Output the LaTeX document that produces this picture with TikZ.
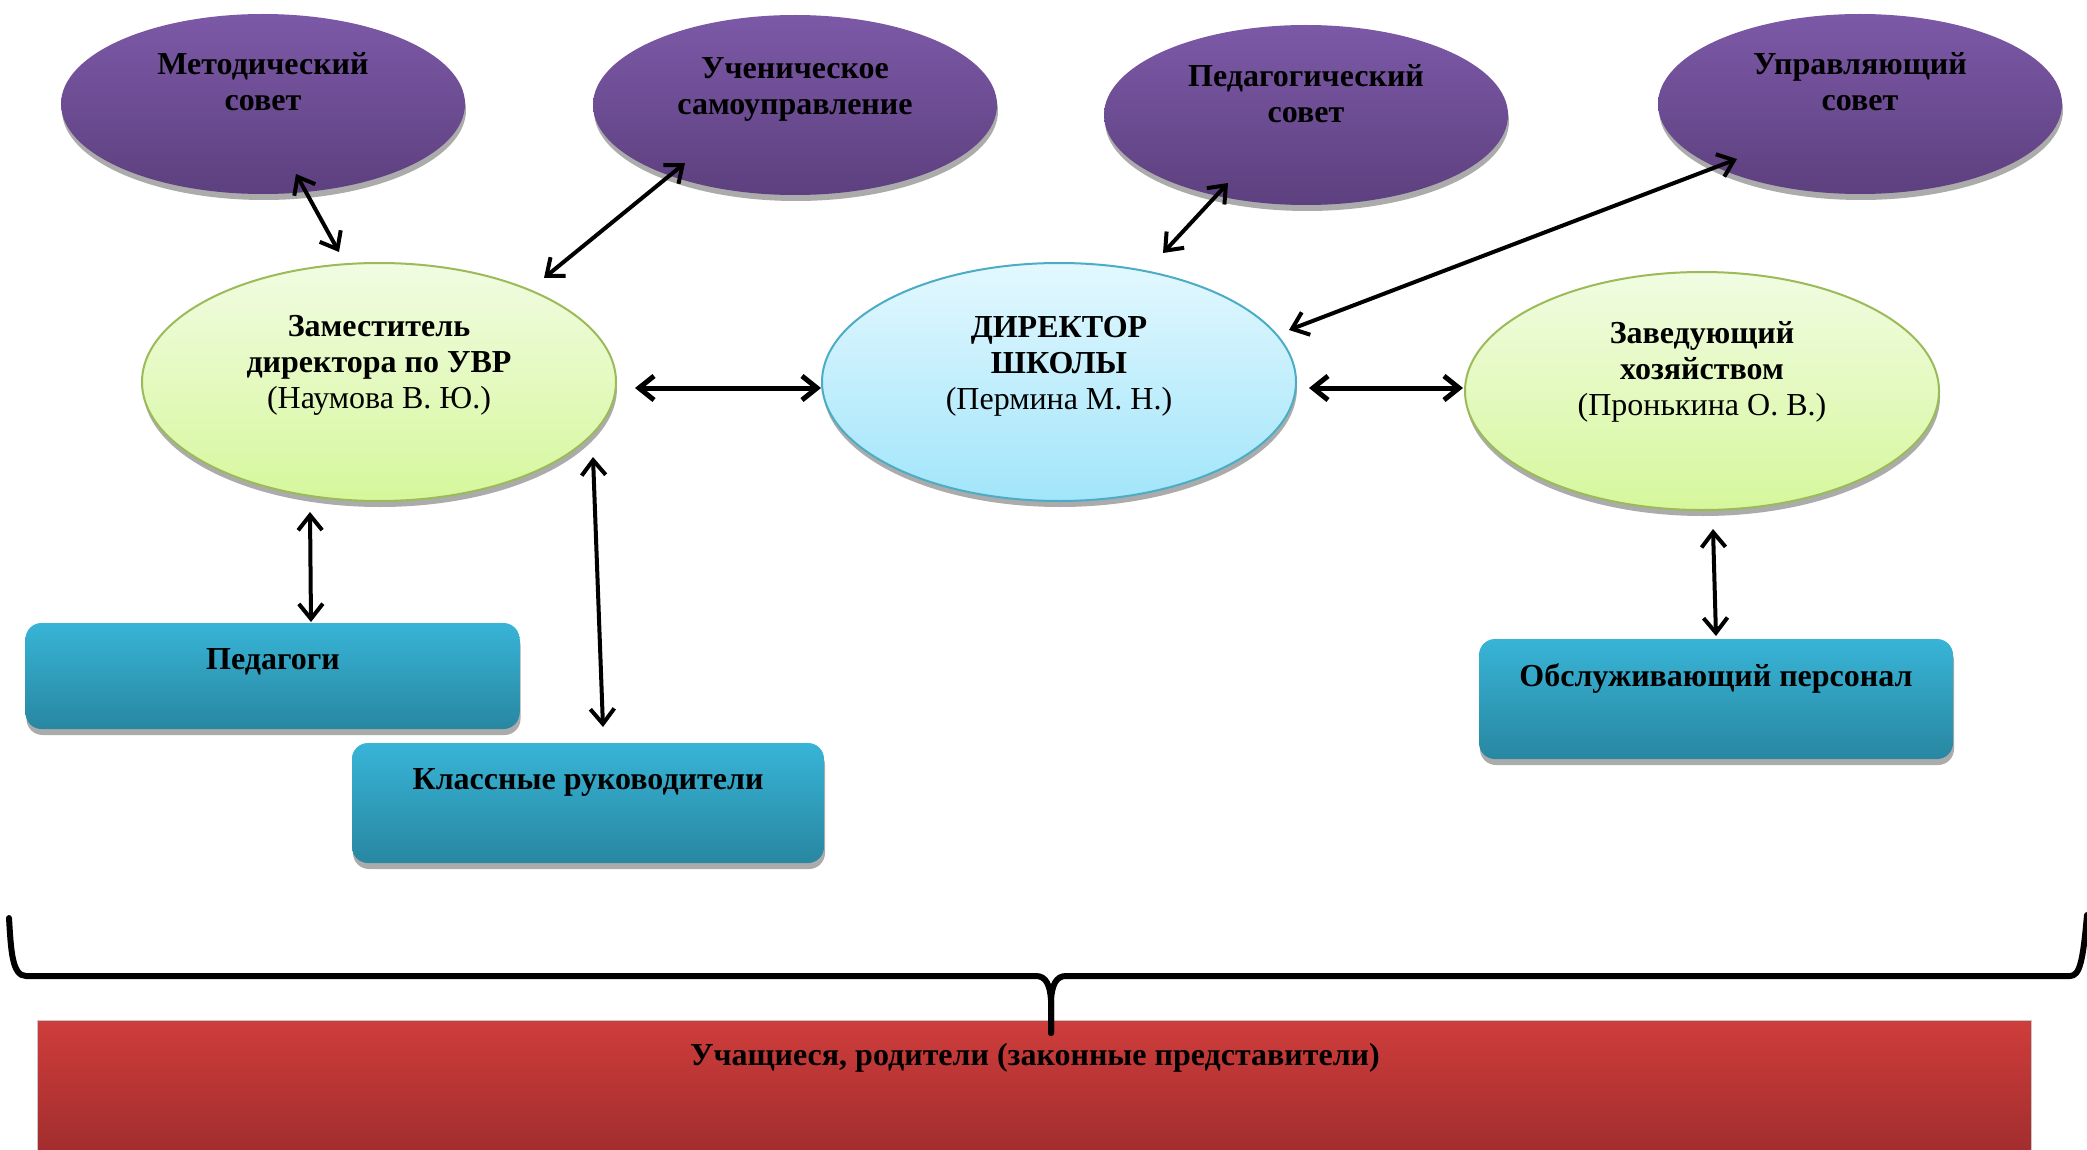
\documentclass[tikz,border=0pt]{standalone}
\usepackage{fontspec}
\setmainfont{Liberation Serif}
\usetikzlibrary{shapes.geometric,shadows,arrows.meta,calc}
\definecolor{purpT}{HTML}{7C59A7}
\definecolor{purpB}{HTML}{5D407F}
\definecolor{grnT}{HTML}{F1FCE2}
\definecolor{grnB}{HTML}{D6F79C}
\definecolor{grnD}{HTML}{9BBB59}
\definecolor{bluT}{HTML}{E3F8FE}
\definecolor{bluB}{HTML}{A2E5FA}
\definecolor{bluD}{HTML}{4BACC6}
\definecolor{boxT}{HTML}{38B4D7}
\definecolor{boxB}{HTML}{2887A1}
\definecolor{redT}{HTML}{CE3D3B}
\definecolor{redB}{HTML}{9F2C2D}
\begin{document}
\begin{tikzpicture}[x=1pt,y=-1pt,
  shad/.style={drop shadow={shadow xshift=1pt,shadow yshift=-6pt,opacity=1,fill=black!33}},
  purp/.style={ellipse, inner sep=0pt, top color=purpT, bottom color=purpB, shad, minimum width=404pt, minimum height=180pt},
  grn/.style={ellipse, inner sep=0pt, top color=grnT, bottom color=grnB, draw=grnD, line width=2pt, shad, minimum width=474pt, minimum height=238pt},
  blu/.style={ellipse, inner sep=0pt, top color=bluT, bottom color=bluB, draw=bluD, line width=2pt, shad, minimum width=474pt, minimum height=238pt},
  boxn/.style={rectangle, rounded corners=16pt, inner sep=0pt, top color=boxT, bottom color=boxB, shad, minimum width=472pt, minimum height=120pt},
  txt/.style={align=center, inner sep=0pt, font=\fontsize{32}{36}\selectfont\bfseries},
  arr/.style={line width=4pt, {Straight Barb[length=15pt,width=24pt]}-{Straight Barb[length=15pt,width=24pt]}},
  harr/.style={arr, line width=5pt}
]
\fill[white] (0,0) rectangle (2087,1150);
\useasboundingbox (0,0) rectangle (2087,1150);

% ellipses
\node[purp] (met) at (263,104) {};
\node[purp] (uch) at (795,105) {};
\node[purp] (ped) at (1306,115) {};
\node[purp] (upr) at (1860,104) {};
\node[grn] (zam) at (379,382) {};
\node[blu] (dir) at (1059,382) {};
\node[grn] (zav) at (1702,391) {};

% boxes
\node[boxn, minimum width=494pt, minimum height=106pt] (pg) at (272.5,676) {};
\node[boxn] (kl) at (588,803) {};
\node[boxn, minimum width=474pt] (obs) at (1716,699) {};

% red bar
\node[rectangle, inner sep=0pt, anchor=north west, minimum width=1994pt, minimum height=140pt,
      top color=redT, bottom color=redB, draw=black!22, line width=1pt] (bar) at (37,1020) {};

% texts
\node[txt] (metT) at (263,82) {Методический\\совет};
\node[txt] (uchT) at (795,89) {Ученическое\\самоуправление};
\node[txt] (pedT) at (1306,94) {Педагогический\\совет};
\node[txt] (uprT) at (1860,82) {Управляющий\\совет};
\node[txt] (zamT) at (379,365) {Заместитель\\директора по УВР\\\textmd{(Наумова В. Ю.)}};
\node[txt] (dirT) at (1059,366) {ДИРЕКТОР\\ШКОЛЫ\\\textmd{(Пермина М. Н.)}};
\node[txt] (zavT) at (1702,372) {Заведующий\\хозяйством\\\textmd{(Пронькина О. В.)}};
\node[txt, anchor=base] (pgT) at (273,669) {Педагоги};
\node[txt, anchor=base] (klT) at (588,789) {Классные руководители};
\node[txt, anchor=base] (obsT) at (1716,686) {Обслуживающий персонал};
\node[txt, anchor=base] (barT) at (1035,1065) {Учащиеся, родители (законные представители)};

% connectors
\draw[arr] ($(met)+(33,70)$) -- ($(zam)+(-40,-130)$);
\draw[arr] ($(uch)+(-110,58)$) -- ($(zam)+(165,-104)$);
\draw[harr] ($(zam)+(256,6)$) -- ($(dir)+(-238,6)$);
\draw[arr] ($(ped)+(-78,68)$) -- ($(dir)+(104,-129)$);
\draw[arr] ($(upr)+(-123,55)$) -- ($(dir)+(230,-52)$);
\draw[harr] ($(dir)+(250,6)$) -- ($(zav)+(-239,-3)$);
\draw[arr] ($(zam)+(-69,130)$) -- ($(pg)+(38.5,-54)$);
\draw[arr] ($(zam)+(214,75)$) -- ($(kl)+(15,-76)$);
\draw[arr] ($(zav)+(11,138)$) -- ($(obs)+(0,-63)$);

% brace
\coordinate (bl) at (9,918);
\coordinate (bt) at (1051,1033);
\coordinate (br) at (2087,915);
\draw[line width=6pt, line cap=round, line join=round]
  (bl) .. controls (11,950) and (12,976) .. (26,976) -- (1036,976)
  .. controls (1046,976) and (1050,985) .. (1051,1000) -- (bt);
\draw[line width=6pt, line cap=round, line join=round]
  (bt) -- (1051,1000) .. controls (1052,985) and (1056,976) .. (1066,976) -- (2070,976)
  .. controls (2080,976) and (2083,960) .. (br);
\end{tikzpicture}
\end{document}
